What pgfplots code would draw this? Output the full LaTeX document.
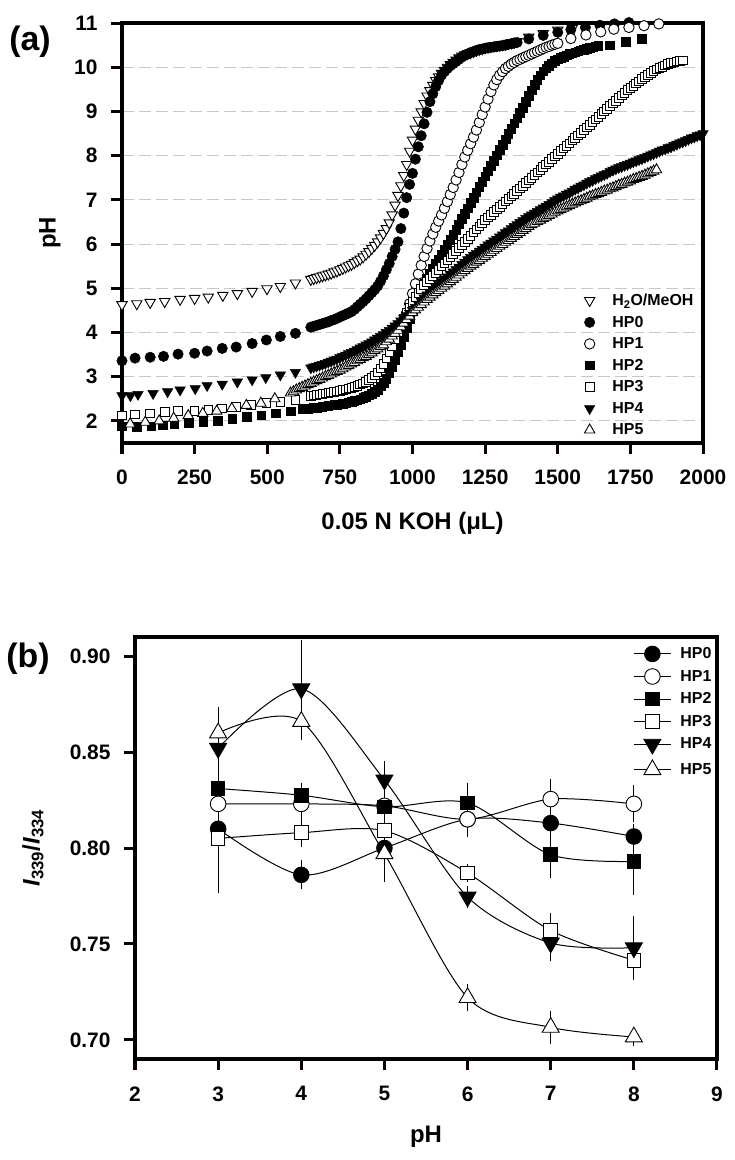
\documentclass[border=0pt]{standalone}
\usepackage{fontspec}
\setmainfont{Liberation Sans}
\usepackage{pgfplots}
\pgfplotsset{compat=1.18}

\pgfplotsset{
  panel/.style={
    scale only axis, anchor=south west,
    axis line style={line width=3.5bp, black},
    tick align=outside,
    xtick pos=bottom, ytick pos=left,
    major tick length=11bp,
    tick style={line width=3bp, black!95!red},
    /pgf/number format/assume math mode=true,
    /pgf/number format/set thousands separator={},
    tick label style={font=\fontsize{21}{21}\selectfont\bfseries},
    label style={font=\fontsize{24}{24}\selectfont\bfseries},
  },
  legA/.style={legend image code/.code={\path (0bp,0bp) (34bp,0bp); \draw[##1] plot coordinates {(13.5bp,0bp)};}},
  mH/.style={only marks, legA, mark=triangle*, mark size=6bp, mark options={rotate=180, fill=white, draw=black, line width=0.9bp}},
  mA0/.style={only marks, legA, mark=*, mark size=5.2bp, mark options={fill=black, draw=black, line width=0.5bp}},
  mA1/.style={only marks, legA, mark=*, mark size=5.2bp, mark options={fill=white, draw=black, line width=0.9bp}},
  mA2/.style={only marks, legA, mark=square*, mark size=4.3bp, mark options={fill=black, draw=black, line width=0.5bp}},
  mA3/.style={only marks, legA, mark=square*, mark size=4.3bp, mark options={fill=white, draw=black, line width=0.9bp}},
  mA4/.style={only marks, legA, mark=triangle*, mark size=6bp, mark options={rotate=180, fill=black, draw=black, line width=0.5bp}},
  mA5/.style={only marks, legA, mark=triangle*, mark size=6bp, mark options={fill=white, draw=black, line width=0.9bp}},
  eb/.style={black, line width=1bp, smooth,
    error bars/.cd, y dir=both, y explicit,
    error bar style={line width=0.9bp, black},
    error mark options={line width=0.9bp, mark size=5bp, black},
    /pgfplots/.cd},
  mB0/.style={mark=*, mark size=7.8bp, mark options={fill=black, draw=black, line width=0.9bp}, eb},
  mB1/.style={mark=*, mark size=7.8bp, mark options={fill=white, draw=black, line width=0.9bp}, eb},
  mB2/.style={mark=square*, mark size=6.8bp, mark options={fill=black, draw=black, line width=0.9bp}, eb},
  mB3/.style={mark=square*, mark size=6.8bp, mark options={fill=white, draw=black, line width=0.9bp}, eb},
  mB4/.style={mark=triangle*, mark size=9.8bp, mark options={rotate=180, fill=black, draw=black, line width=0.9bp}, eb},
  mB5/.style={mark=triangle*, mark size=9.8bp, mark options={fill=white, draw=black, line width=0.9bp}, eb},
}

\begin{document}
\begin{tikzpicture}
\useasboundingbox (0bp,0bp) rectangle (735bp,-1160bp);

% ---------------- panel (a) ----------------
\begin{axis}[panel,
  at={(122bp,-443bp)}, width=581bp, height=420bp,
  xmin=0, xmax=2000, ymin=1.5, ymax=11,
  xtick={0,250,...,2000}, ytick={2,...,11},
  xticklabel style={yshift=-12bp}, yticklabel style={xshift=-10bp},
  ymajorgrids, grid style={line width=1bp, color=black!22, dash pattern=on 12bp off 5bp},
  clip=false,
  xlabel={0.05 N KOH (μL)}, ylabel={pH},
  x label style={at={(axis description cs:0.5,0)}, yshift=-80bp, anchor=center},
  y label style={at={(axis description cs:0,0.5)}, yshift=72bp, anchor=center},
  legend style={at={(0.781,0.36)}, anchor=north west, draw=none, fill=none,
    font=\fontsize{16}{16}\selectfont\bfseries, row sep=5bp, inner sep=0pt},
  legend cell align=left,
]
\addplot[mH] coordinates {
(0,4.63) (51,4.65) (97,4.68) (147,4.70) (200,4.75) (250,4.77) (297,4.80) (347,4.84) (397,4.88) (448,4.93) (499,4.99) (545,5.04) (597,5.12)
(650,5.20) (660,5.22) (670,5.24) (680,5.26) (690,5.28) (700,5.30) (710,5.32) (720,5.34) (730,5.37) (740,5.39) (750,5.42) (760,5.45) (770,5.48) (780,5.51) (790,5.54) (800,5.58) (810,5.62) (820,5.66) (830,5.71) (840,5.77) (850,5.83) (860,5.90) (870,5.97) (880,6.05) (890,6.14) (900,6.24) (910,6.35) (920,6.48) (930,6.66) (940,6.88) (950,7.10) (960,7.32) (970,7.55) (980,7.80) (990,8.10) (1000,8.35) (1010,8.60) (1020,8.80) (1030,8.99) (1040,9.18) (1050,9.35) (1060,9.47) (1070,9.59) (1080,9.70) (1090,9.78) (1100,9.86) (1110,9.93) (1120,10.00) (1130,10.06) (1140,10.11) (1150,10.16) (1160,10.21) (1170,10.25) (1180,10.28) (1190,10.31) (1200,10.33) (1210,10.36) (1220,10.38) (1230,10.40) (1240,10.42) (1250,10.44) (1260,10.45) (1270,10.47) (1280,10.48) (1290,10.49) (1300,10.50) (1310,10.51) (1320,10.52) (1330,10.54) (1340,10.55) (1350,10.56) (1360,10.58)
(1400,10.68) (1450,10.76) (1500,10.84) (1550,10.88)
};
\addlegendentry{H\textsubscript{2}O/MeOH}
\addplot[mA0] coordinates {
(0,3.36) (45,3.42) (97,3.44) (143,3.46) (193,3.51) (250,3.53) (293,3.58) (345,3.64) (393,3.67) (448,3.75) (497,3.83) (545,3.91) (597,3.98)
(650,4.12) (660,4.14) (670,4.16) (680,4.18) (690,4.20) (700,4.22) (710,4.24) (720,4.27) (730,4.29) (740,4.32) (750,4.35) (760,4.38) (770,4.41) (780,4.44) (790,4.47) (800,4.52) (810,4.58) (820,4.64) (830,4.70) (840,4.76) (850,4.83) (860,4.90) (870,4.97) (880,5.05) (890,5.16) (900,5.28) (910,5.42) (920,5.56) (930,5.72) (940,5.88) (950,6.05) (960,6.35) (970,6.70) (980,7.05) (990,7.35) (1000,7.60) (1010,7.92) (1020,8.20) (1030,8.45) (1040,8.72) (1050,8.98) (1060,9.22) (1070,9.40) (1080,9.56) (1090,9.70) (1100,9.82) (1110,9.90) (1120,9.97) (1130,10.03) (1140,10.08) (1150,10.13) (1160,10.18) (1170,10.23) (1180,10.27) (1190,10.30) (1200,10.33) (1210,10.35) (1220,10.38) (1230,10.40) (1240,10.41) (1250,10.43) (1260,10.44) (1270,10.45) (1280,10.46) (1290,10.47) (1300,10.48) (1310,10.49) (1320,10.50) (1330,10.52) (1340,10.53) (1350,10.55) (1360,10.56)
(1400,10.64) (1450,10.72) (1500,10.79) (1545,10.85) (1595,10.90) (1645,10.95) (1695,10.98) (1745,11.01)
};
\addlegendentry{HP0}
\addplot[mA1] coordinates {
(980,4.45) (990,4.65) (1000,4.88) (1010,5.10) (1020,5.32) (1030,5.52) (1040,5.72) (1050,5.90) (1060,6.07) (1070,6.23) (1080,6.38) (1090,6.52) (1100,6.66) (1110,6.81) (1120,6.96) (1130,7.12) (1140,7.28) (1150,7.45) (1160,7.62) (1170,7.80) (1180,7.97) (1190,8.12) (1200,8.27) (1210,8.42) (1220,8.58) (1230,8.75) (1240,8.93) (1250,9.10) (1260,9.28) (1270,9.45) (1280,9.60) (1290,9.72) (1300,9.82) (1310,9.90) (1320,9.97) (1330,10.02) (1340,10.07) (1350,10.11) (1360,10.15) (1370,10.18) (1380,10.21) (1390,10.24) (1400,10.27) (1410,10.30) (1420,10.33) (1430,10.36) (1440,10.39) (1450,10.42) (1460,10.45) (1470,10.47) (1480,10.50) (1490,10.52) (1500,10.54)
(1545,10.65) (1597,10.73) (1648,10.80) (1693,10.86) (1745,10.90) (1797,10.94) (1848,10.98)
};
\addlegendentry{HP1}
\addplot[mA2] coordinates {
(0,1.88) (50,1.87) (100,1.88) (140,1.90) (180,1.92) (230,1.95) (280,1.98) (330,2.01) (380,2.05) (430,2.09) (480,2.13) (530,2.17) (580,2.22)
(620,2.27) (630,2.27) (640,2.28) (650,2.29) (660,2.30) (670,2.30) (680,2.31) (690,2.32) (700,2.33) (710,2.34) (720,2.35) (730,2.36) (740,2.37) (750,2.38) (760,2.39) (770,2.40) (780,2.42) (790,2.43) (800,2.45) (810,2.47) (820,2.49) (830,2.52) (840,2.55) (850,2.58) (860,2.62) (870,2.66) (880,2.71) (890,2.78) (900,2.86) (910,2.96) (920,3.08) (930,3.22) (940,3.38) (950,3.55) (960,3.72) (970,3.90) (980,4.10) (990,4.30) (1000,4.50) (1010,4.68) (1020,4.84) (1030,4.98) (1040,5.10) (1050,5.22) (1060,5.33) (1070,5.44) (1080,5.55) (1090,5.66) (1100,5.77) (1110,5.88) (1120,5.99) (1130,6.10) (1140,6.21) (1150,6.33) (1160,6.45) (1170,6.57) (1180,6.69) (1190,6.81) (1200,6.93) (1210,7.05) (1220,7.17) (1230,7.29) (1240,7.41) (1250,7.53) (1260,7.65) (1270,7.77) (1280,7.89) (1290,8.01) (1300,8.13) (1310,8.25) (1320,8.37) (1330,8.49) (1340,8.61) (1350,8.73) (1360,8.85) (1370,8.97) (1380,9.09) (1390,9.22) (1400,9.35) (1410,9.48) (1420,9.60) (1430,9.72) (1440,9.82) (1450,9.91) (1460,9.98) (1470,10.04) (1480,10.09) (1490,10.14) (1500,10.18) (1510,10.21) (1520,10.24) (1530,10.27) (1540,10.30) (1550,10.32) (1560,10.34) (1570,10.36) (1580,10.38) (1590,10.40) (1600,10.42) (1610,10.44) (1620,10.45) (1630,10.47) (1640,10.48)
(1680,10.50) (1735,10.58) (1790,10.65)
};
\addlegendentry{HP2}
\addplot[mA3] coordinates {
(0,2.12) (45,2.15) (97,2.17) (147,2.20) (193,2.22) (250,2.23) (297,2.25) (345,2.28) (393,2.32) (443,2.36) (497,2.40) (545,2.43) (597,2.48)
(650,2.57) (660,2.58) (670,2.59) (680,2.60) (690,2.61) (700,2.62) (710,2.63) (720,2.64) (730,2.65) (740,2.67) (750,2.68) (760,2.70) (770,2.71) (780,2.73) (790,2.75) (800,2.77) (810,2.79) (820,2.82) (830,2.85) (840,2.88) (850,2.92) (860,2.97) (870,3.03) (880,3.10) (890,3.19) (900,3.29) (910,3.41) (920,3.55) (930,3.70) (940,3.85) (950,4.00) (960,4.15) (970,4.30) (980,4.44) (990,4.57) (1000,4.69) (1010,4.80) (1020,4.90) (1030,4.99) (1040,5.07) (1050,5.14) (1060,5.21) (1070,5.28) (1080,5.35) (1090,5.42) (1100,5.49) (1110,5.56) (1120,5.63) (1130,5.70) (1140,5.77) (1150,5.84) (1160,5.91) (1170,5.98) (1180,6.05) (1190,6.12) (1200,6.19) (1210,6.26) (1220,6.33) (1230,6.40) (1240,6.47) (1250,6.54) (1260,6.60) (1270,6.66) (1280,6.72) (1290,6.78) (1300,6.84) (1310,6.90) (1320,6.96) (1330,7.02) (1340,7.08) (1350,7.14) (1360,7.20) (1370,7.26) (1380,7.32) (1390,7.38) (1400,7.44) (1410,7.50) (1420,7.56) (1430,7.62) (1440,7.68) (1450,7.74) (1460,7.80) (1470,7.86) (1480,7.92) (1490,7.98) (1500,8.04) (1510,8.10) (1520,8.16) (1530,8.22) (1540,8.28) (1550,8.34) (1560,8.40) (1570,8.46) (1580,8.52) (1590,8.58) (1600,8.64) (1610,8.70) (1620,8.76) (1630,8.82) (1640,8.88) (1650,8.94) (1660,9.00) (1670,9.06) (1680,9.12) (1690,9.18) (1700,9.24) (1710,9.30) (1720,9.36) (1730,9.42) (1740,9.48) (1750,9.53) (1760,9.58) (1770,9.63) (1780,9.68) (1790,9.73) (1800,9.78) (1810,9.83) (1820,9.87) (1830,9.91) (1840,9.95) (1850,9.98) (1860,10.01) (1870,10.04) (1880,10.07) (1890,10.09) (1900,10.11) (1910,10.13) (1920,10.14) (1930,10.15)
};
\addlegendentry{HP3}
\addplot[mA4] coordinates {
(0,2.57) (29,2.57) (55,2.60) (107,2.62) (157,2.66) (200,2.70) (252,2.73) (293,2.80) (345,2.83) (397,2.88) (448,2.93) (495,2.98) (545,3.04) (597,3.10)
(650,3.20) (660,3.22) (670,3.24) (680,3.26) (690,3.28) (700,3.30) (710,3.33) (720,3.35) (730,3.38) (740,3.40) (750,3.43) (760,3.46) (770,3.49) (780,3.52) (790,3.55) (800,3.58) (810,3.61) (820,3.65) (830,3.68) (840,3.72) (850,3.75) (860,3.79) (870,3.83) (880,3.87) (890,3.91) (900,3.95) (910,4.00) (920,4.05) (930,4.10) (940,4.15) (950,4.20) (960,4.26) (970,4.32) (980,4.38) (990,4.44) (1000,4.50) (1010,4.57) (1020,4.64) (1030,4.71) (1040,4.78) (1050,4.85) (1060,4.91) (1070,4.97) (1080,5.03) (1090,5.09) (1100,5.15) (1110,5.21) (1120,5.26) (1130,5.32) (1140,5.37) (1150,5.43) (1160,5.48) (1170,5.54) (1180,5.59) (1190,5.65) (1200,5.70) (1210,5.75) (1220,5.79) (1230,5.84) (1240,5.88) (1250,5.93) (1260,5.98) (1270,6.02) (1280,6.07) (1290,6.11) (1300,6.16) (1310,6.21) (1320,6.26) (1330,6.30) (1340,6.35) (1350,6.40) (1360,6.44) (1370,6.49) (1380,6.53) (1390,6.58) (1400,6.62) (1410,6.66) (1420,6.70) (1430,6.74) (1440,6.78) (1450,6.82) (1460,6.86) (1470,6.90) (1480,6.94) (1490,6.98) (1500,7.02) (1510,7.06) (1520,7.09) (1530,7.13) (1540,7.16) (1550,7.20) (1560,7.24) (1570,7.27) (1580,7.31) (1590,7.34) (1600,7.38) (1610,7.41) (1620,7.44) (1630,7.48) (1640,7.51) (1650,7.54) (1660,7.57) (1670,7.60) (1680,7.64) (1690,7.67) (1700,7.70) (1710,7.73) (1720,7.75) (1730,7.78) (1740,7.80) (1750,7.83) (1760,7.86) (1770,7.88) (1780,7.91) (1790,7.93) (1800,7.96) (1810,7.99) (1820,8.02) (1830,8.04) (1840,8.07) (1850,8.10) (1860,8.13) (1870,8.15) (1880,8.18) (1890,8.20) (1900,8.23) (1910,8.26) (1920,8.29) (1930,8.31) (1940,8.34) (1950,8.37) (1960,8.40) (1970,8.42) (1980,8.45) (1990,8.47) (2000,8.50)
};
\addlegendentry{HP4}
\addplot[mA5] coordinates {
(28,1.93) (80,1.97) (128,2.00) (178,2.06) (228,2.12) (278,2.17) (326,2.22) (378,2.28) (428,2.35) (478,2.40) (526,2.50)
(580,2.63) (590,2.66) (600,2.70) (610,2.73) (620,2.76) (630,2.79) (640,2.82) (650,2.85) (660,2.88) (670,2.91) (680,2.94) (690,2.97) (700,3.00) (710,3.03) (720,3.06) (730,3.09) (740,3.12) (750,3.15) (760,3.18) (770,3.22) (780,3.25) (790,3.29) (800,3.32) (810,3.36) (820,3.39) (830,3.43) (840,3.46) (850,3.50) (860,3.54) (870,3.59) (880,3.63) (890,3.68) (900,3.72) (910,3.79) (920,3.85) (930,3.92) (940,3.98) (950,4.05) (960,4.13) (970,4.21) (980,4.29) (990,4.37) (1000,4.45) (1010,4.51) (1020,4.57) (1030,4.63) (1040,4.69) (1050,4.75) (1060,4.80) (1070,4.85) (1080,4.90) (1090,4.95) (1100,5.00) (1110,5.05) (1120,5.10) (1130,5.15) (1140,5.20) (1150,5.25) (1160,5.30) (1170,5.35) (1180,5.40) (1190,5.45) (1200,5.50) (1210,5.54) (1220,5.59) (1230,5.63) (1240,5.68) (1250,5.72) (1260,5.77) (1270,5.81) (1280,5.86) (1290,5.90) (1300,5.95) (1310,5.99) (1320,6.04) (1330,6.08) (1340,6.13) (1350,6.17) (1360,6.22) (1370,6.26) (1380,6.31) (1390,6.35) (1400,6.40) (1410,6.44) (1420,6.47) (1430,6.51) (1440,6.54) (1450,6.58) (1460,6.61) (1470,6.65) (1480,6.68) (1490,6.72) (1500,6.75) (1510,6.78) (1520,6.81) (1530,6.84) (1540,6.87) (1550,6.90) (1560,6.93) (1570,6.96) (1580,6.98) (1590,7.01) (1600,7.04) (1610,7.07) (1620,7.09) (1630,7.12) (1640,7.14) (1650,7.17) (1660,7.20) (1670,7.22) (1680,7.25) (1690,7.27) (1700,7.30) (1710,7.33) (1720,7.35) (1730,7.38) (1740,7.40) (1750,7.43) (1760,7.46) (1770,7.48) (1780,7.51) (1790,7.53) (1800,7.56) (1810,7.59) (1820,7.62) (1830,7.65) (1840,7.68)
};
\addlegendentry{HP5}
\end{axis}
\node[font=\fontsize{34}{34}\selectfont\bfseries] at (30bp,-42bp) {(a)};

% ---------------- panel (b) ----------------
\begin{axis}[panel,
  at={(135bp,-1059bp)}, width=582bp, height=422bp,
  xmin=2, xmax=9, ymin=0.69, ymax=0.91,
  xtick={2,...,9}, ytick={0.70,0.75,0.80,0.85,0.90},
  xticklabel style={yshift=-13bp},
  yticklabel style={xshift=-10bp, /pgf/number format/.cd, fixed, fixed zerofill, precision=2},
  xlabel={pH}, ylabel={\textit{I}\textsubscript{339}/\textit{I}\textsubscript{334}},
  x label style={at={(axis description cs:0.5,0)}, yshift=-78bp, anchor=center},
  y label style={at={(axis description cs:0,0.5)}, yshift=102bp, anchor=center},
  legend style={at={(0.856,0.98)}, anchor=north west, draw=none, fill=none,
    font=\fontsize{16}{16}\selectfont\bfseries, row sep=6bp, inner sep=0pt},
  legend cell align=left,
  legend image code/.code={\path (0bp,0bp) (44bp,0bp); \draw[mark repeat=2, mark phase=2, #1] plot coordinates {(0bp,0bp) (18.5bp,0bp) (37bp,0bp)};},
]
\addplot[mB0] coordinates {(3,0.810) +- (0,0.016) (4,0.786) +- (0,0.005) (5,0.800) +- (0,0.005) (6,0.815) +- (0,0.004) (7,0.813) +- (0,0.0055) (8,0.806) +- (0,0.004)};
\addlegendentry{HP0}
\addplot[mB1] coordinates {(3,0.823) +- (0,0.005) (4,0.823) +- (0,0.005) (5,0.822) +- (0,0.005) (6,0.815) +- (0,0.0065) (7,0.8255) +- (0,0.008) (8,0.823) +- (0,0.007)};
\addlegendentry{HP1}
\addplot[mB2] coordinates {(3,0.831) +- (0,0.008) (4,0.8275) +- (0,0.004) (5,0.8215) +- (0,0.007) (6,0.8235) +- (0,0.008) (7,0.7965) +- (0,0.0095) (8,0.793) +- (0,0.015)};
\addlegendentry{HP2}
\addplot[mB3] coordinates {(3,0.805) +- (0,0.026) (4,0.808) +- (0,0.005) (5,0.809) +- (0,0.005) (6,0.787) +- (0,0.002) (7,0.757) +- (0,0.0065) (8,0.7415) +- (0,0.007)};
\addlegendentry{HP3}
\addplot[mB4] coordinates {(3,0.852) +- (0,0.017) (4,0.883) +- (0,0.023) (5,0.8355) +- (0,0.007) (6,0.7745) +- (0,0.003) (7,0.7505) +- (0,0.007) (8,0.748) +- (0,0.014)};
\addlegendentry{HP4}
\addplot[mB5] coordinates {(3,0.860) +- (0,0.011) (4,0.866) +- (0,0.007) (5,0.797) +- (0,0.012) (6,0.722) +- (0,0.0045) (7,0.7065) +- (0,0.006) (8,0.7015) +- (0,0.002)};
\addlegendentry{HP5}
\end{axis}
\node[font=\fontsize{34}{34}\selectfont\bfseries] at (28bp,-659bp) {(b)};
\end{tikzpicture}
\end{document}
